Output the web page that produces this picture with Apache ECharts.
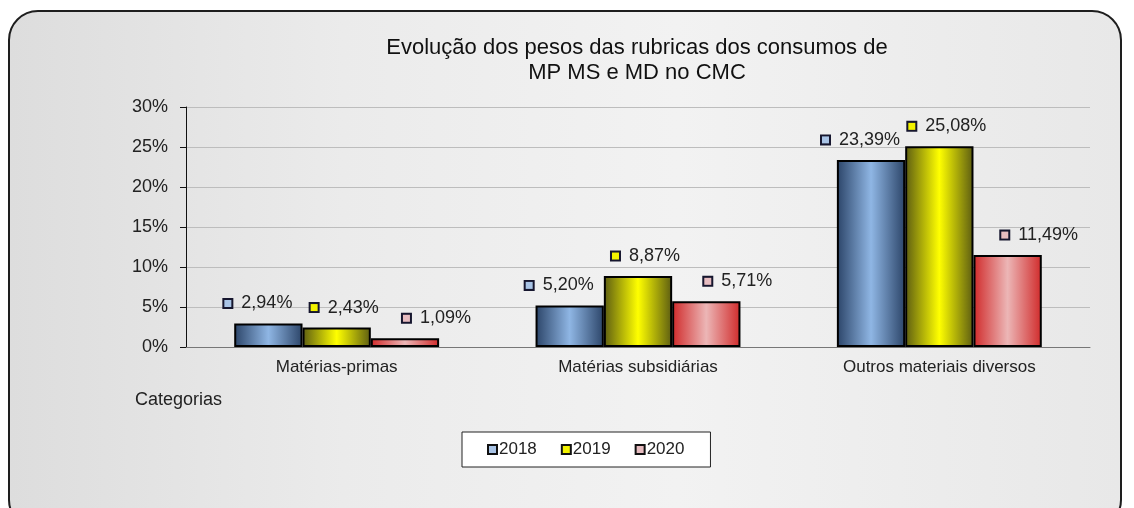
<!DOCTYPE html>
<html>
<head>
<meta charset="utf-8">
<script src="https://cdn.jsdelivr.net/npm/echarts@6/dist/echarts.min.js"></script>
<style>
  html, body { margin: 0; padding: 0; background: #fff; }
  #frame {
    position: absolute; left: 8px; top: 10px; width: 1114px; height: 520px;
    border: 2px solid #1e1e1e; border-radius: 30px; box-sizing: border-box;
    background: linear-gradient(90deg, #dddddd 0%, #ebebeb 30%, #f2f2f2 60%, #e8e8e8 100%);
  }
  #chart { position: absolute; left: 0; top: 0; width: 1134px; height: 508px; }
</style>
</head>
<body>
<div id="frame"></div>
<div id="chart"></div>
<script>
/* ── dados ── */
const CATEGORIES = ['Matérias-primas', 'Matérias subsidiárias', 'Outros materiais diversos']
const YEARS = ['2018', '2019', '2020']
const V2018 = [2.94, 5.20, 23.39]
const V2019 = [2.43, 8.87, 25.08]
const V2020 = [1.09, 5.71, 11.49]
const Y_TICKS = [0, 5, 10, 15, 20, 25, 30]

/* ── estilos por série ── */
const STYLE = [
  { edge: '#2b4468', mid: '#8fb6e4', key: '#a9c4e6', dx: -10 },
  { edge: '#5c5c12', mid: '#ffff00', key: '#f2f200', dx: 8 },
  { edge: '#d02a2a', mid: '#ecb6b6', key: '#e7bcc0', dx: 32 },
]
const FONT = 'Liberation Sans, Arial'

const fmt = v => v.toFixed(2).replace('.', ',') + '%'

function barColor(s) {
  return new echarts.graphic.LinearGradient(0, 0, 1, 0, [
    { offset: 0, color: s.edge },
    { offset: 0.5, color: s.mid },
    { offset: 1, color: s.edge },
  ])
}

const chart = echarts.init(document.getElementById('chart'))

const series = [V2018, V2019, V2020].map((vals, i) => ({
  name: YEARS[i],
  type: 'bar',
  data: vals,
  barGap: 0,
  barCategoryGap: '32%',
  itemStyle: { color: barColor(STYLE[i]), borderColor: '#000', borderWidth: 2 },
  label: {
    show: true,
    position: 'top',
    distance: 11,
    offset: [STYLE[i].dx, 0],
    formatter: p => '{sq|}{v|' + fmt(p.value) + '}',
    rich: {
      sq: { width: 7, height: 7, backgroundColor: STYLE[i].key, borderColor: '#16162e', borderWidth: 2 },
      v: { fontFamily: FONT, fontSize: 18, color: '#222', padding: [0, 0, 0, 10] },
    },
  },
  emphasis: { disabled: true },
}))

chart.setOption({
  animation: false,
  backgroundColor: 'transparent',
  textStyle: { fontFamily: FONT },
  title: {
    text: 'Evolução dos pesos das rubricas dos consumos de\nMP MS e MD no CMC',
    left: 632, top: 30, textAlign: 'center',
    textStyle: { fontSize: 22, fontWeight: 'normal', color: '#111', lineHeight: 25, fontFamily: FONT },
  },
  legend: {
    left: 462, top: 432,
    backgroundColor: '#fff', borderColor: '#222', borderWidth: 1,
    padding: [9, 26, 9, 25],
    itemGap: 24, itemWidth: 9, itemHeight: 9,
    icon: 'rect',
    textStyle: { fontSize: 17, color: '#222', padding: [0, 0, 0, -3] },
    data: YEARS.map((y, i) => ({
      name: y,
      itemStyle: { color: STYLE[i].key, borderColor: '#111', borderWidth: 2 },
    })),
  },
  graphic: [{
    type: 'text', left: 135, top: 391,
    style: { text: 'Categorias', fontSize: 18, fill: '#222', fontFamily: FONT },
  }],
  grid: { left: 186, right: 44, top: 107, bottom: 161 },
  xAxis: {
    type: 'category',
    data: CATEGORIES,
    axisLine: { lineStyle: { color: '#777', width: 1 } },
    axisTick: { length: 6, lineStyle: { color: '#aaa' } },
    axisLabel: { fontSize: 17, color: '#222', margin: 12 },
  },
  yAxis: {
    type: 'value',
    min: Y_TICKS[0], max: Y_TICKS[Y_TICKS.length - 1], interval: 5,
    axisLine: { show: true, lineStyle: { color: '#111', width: 1 } },
    axisTick: { show: true, length: 6, lineStyle: { color: '#111' } },
    axisLabel: { fontSize: 18, color: '#222', margin: 18, formatter: v => v + '%' },
    splitLine: { lineStyle: { color: '#bdbdbd' } },
  },
  series,
})
</script>
</body>
</html>
